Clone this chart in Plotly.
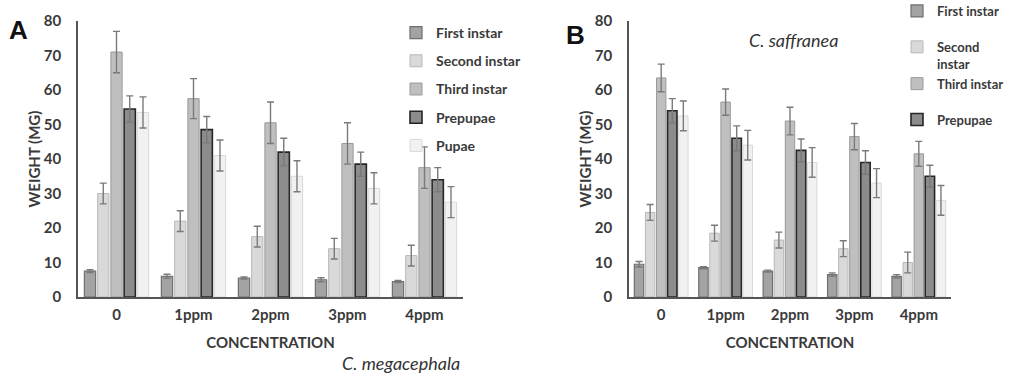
import plotly.graph_objects as go

categories = ["0", "1ppm", "2ppm", "3ppm", "4ppm"]
series_names = ["First instar", "Second instar", "Third instar", "Prepupae", "Pupae"]

# Panel A: C. megacephala
a_first = [7.5, 6.0, 5.5, 5.0, 4.5]
a_second = [30.0, 22.0, 17.5, 14.0, 12.0]
a_third = [71.0, 57.5, 50.5, 44.5, 37.5]
a_prepupae = [54.5, 48.5, 42.0, 38.5, 34.0]
a_pupae = [53.5, 41.0, 35.0, 31.5, 27.5]
a_first_err = [0.4, 0.6, 0.3, 0.6, 0.3]
a_second_err = [3.0, 3.0, 3.0, 3.0, 3.0]
a_third_err = [6.0, 5.8, 6.0, 6.0, 6.0]
a_prepupae_err = [3.8, 3.8, 4.0, 3.5, 3.5]
a_pupae_err = [4.5, 4.5, 4.5, 4.5, 4.5]

# Panel B: C. saffranea
b_first = [9.5, 8.5, 7.5, 6.5, 6.0]
b_second = [24.5, 18.5, 16.5, 14.0, 10.0]
b_third = [63.5, 56.5, 51.0, 46.5, 41.5]
b_prepupae = [54.0, 46.0, 42.5, 39.0, 35.0]
b_pupae = [52.5, 44.0, 39.0, 33.0, 28.0]
b_first_err = [0.8, 0.3, 0.3, 0.5, 0.5]
b_second_err = [2.3, 2.3, 2.3, 2.3, 3.0]
b_third_err = [4.0, 3.8, 4.0, 3.8, 3.6]
b_prepupae_err = [3.5, 3.6, 3.3, 3.4, 3.2]
b_pupae_err = [4.3, 4.3, 4.3, 4.2, 4.3]

b_legend_names = ["First instar", "Second<br>instar", "Third instar", "Prepupae", None]
b_legend_groups = ["B0", "B1", "B1", "B3", "B4"]

fills = ["#a3a3a3", "#d9d9d9", "#bfbfbf", "#8c8c8c", "#f1f1f1"]
outlines = ["#6f6f6f", "#b8b8b8", "#9a9a9a", "#262626", "#d8d8d8"]
outline_w = [1.2, 1.0, 1.0, 1.6, 1.0]

FONT = "Lato, 'Open Sans', sans-serif"
TXT = "#3a3a3a"

fig = go.Figure()

a_vals = [a_first, a_second, a_third, a_prepupae, a_pupae]
a_errs = [a_first_err, a_second_err, a_third_err, a_prepupae_err, a_pupae_err]
b_vals = [b_first, b_second, b_third, b_prepupae, b_pupae]
b_errs = [b_first_err, b_second_err, b_third_err, b_prepupae_err, b_pupae_err]

for i, name in enumerate(series_names):
    fig.add_trace(go.Bar(
        x=categories, y=a_vals[i], name=name,
        xaxis="x", yaxis="y", offsetgroup=str(i),
        legend="legend", legendgroup="A" + str(i),
        marker=dict(color=fills[i], line=dict(color=outlines[i], width=outline_w[i])),
        error_y=dict(type="data", array=a_errs[i], color="#7a7a7a", thickness=1.4, width=3.5),
    ))
for i, name in enumerate(series_names):
    lname = b_legend_names[i]
    fig.add_trace(go.Bar(
        x=categories, y=b_vals[i], name=lname if lname else name,
        showlegend=lname is not None,
        xaxis="x2", yaxis="y2", offsetgroup=str(i),
        legend="legend2", legendgroup=b_legend_groups[i],
        marker=dict(color=fills[i], line=dict(color=outlines[i], width=outline_w[i])),
        error_y=dict(type="data", array=b_errs[i], color="#7a7a7a", thickness=1.4, width=3.5),
    ))

W, H = 1013, 375
y_dom = [1 - 297 / H, 1 - 21 / H]

axis_common_y = dict(
    range=[0, 80], tickvals=list(range(0, 81, 10)), showgrid=False, zeroline=False,
    showline=True, linecolor="#555555", linewidth=1.5, ticks="", ticklabelstandoff=12,
    tickfont=dict(family=FONT, size=15, color=TXT, weight="bold"),
    title=dict(text="WEIGHT (MG)", font=dict(family=FONT, size=15, color=TXT, weight="bold"), standoff=0),
    automargin=False,
)
axis_common_x = dict(
    showgrid=False, zeroline=False, showline=True, linecolor="#555555", linewidth=1.5,
    ticks="", ticklabelstandoff=3,
    tickfont=dict(family=FONT, size=15, color=TXT, weight="bold"),
    title=dict(text="CONCENTRATION", font=dict(family=FONT, size=15, color=TXT, weight="bold"), standoff=16),
    automargin=False,
)

fig.update_layout(
    width=W, height=H,
    margin=dict(l=0, r=0, t=0, b=0, autoexpand=False),
    paper_bgcolor="white", plot_bgcolor="white",
    barmode="group", bargap=0.14, bargroupgap=0.15,
    xaxis=dict(domain=[78 / W, 463 / W], anchor="y", **axis_common_x),
    yaxis=dict(domain=y_dom, anchor="x", **axis_common_y),
    xaxis2=dict(domain=[629 / W, 951 / W], anchor="y2", **axis_common_x),
    yaxis2=dict(domain=y_dom, anchor="x2", **axis_common_y),
    legend=dict(
        x=396 / W, y=1 - 17 / H, xanchor="left", yanchor="top",
        bgcolor="rgba(0,0,0,0)", tracegroupgap=7, itemwidth=30,
        font=dict(family=FONT, size=14, color=TXT, weight="bold"),
    ),
    legend2=dict(
        x=897 / W, y=1 + 4 / H, xanchor="left", yanchor="top", valign="top",
        bgcolor="rgba(0,0,0,0)", tracegroupgap=16, itemwidth=30,
        font=dict(family=FONT, size=13, color=TXT, weight="bold"),
    ),
    annotations=[
        dict(text="A", x=18 / W, y=1 - 30 / H, xref="paper", yref="paper", showarrow=False,
             xanchor="center", yanchor="middle",
             font=dict(family="Liberation Sans, Arial, sans-serif", size=26, color="#111111", weight="bold")),
        dict(text="B", x=575 / W, y=1 - 35 / H, xref="paper", yref="paper", showarrow=False,
             xanchor="center", yanchor="middle",
             font=dict(family="Liberation Sans, Arial, sans-serif", size=26, color="#111111", weight="bold")),
        dict(text="<i>C. megacephala</i>", x=401 / W, y=1 - 363 / H, xref="paper", yref="paper",
             showarrow=False, xanchor="center", yanchor="middle",
             font=dict(family=FONT, size=18, color="#333333")),
        dict(text="<i>C. saffranea</i>", x=793 / W, y=1 - 40 / H, xref="paper", yref="paper",
             showarrow=False, xanchor="center", yanchor="middle",
             font=dict(family=FONT, size=18, color="#333333")),
    ],
)

fig.write_html("out.html")
